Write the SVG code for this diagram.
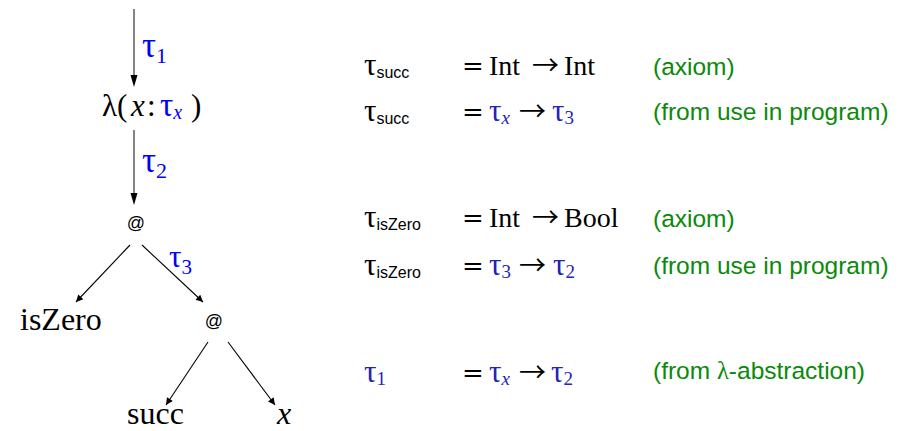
<svg xmlns="http://www.w3.org/2000/svg" width="912" height="431" viewBox="0 0 912 431">
<style>
.s{font-family:"Liberation Serif","DejaVu Serif",serif;fill:#000}
.d{font-family:"DejaVu Serif",serif;fill:#000}
.ar{font-family:"Noto Sans CJK JP","DejaVu Serif",sans-serif;fill:#000;font-size:27px}
.i{font-style:italic}
.t{font-family:"Liberation Serif","DejaVu Serif",serif;fill:#0000ff}
.tb{font-family:"Liberation Serif","DejaVu Serif",serif;fill:#2323b4}
.sans{font-family:"Liberation Sans",Arial,sans-serif}
.g{font-family:"Liberation Sans",Arial,sans-serif;fill:#0a8a0a;font-size:24.5px}
.gl{stroke:#666;stroke-width:1.6;fill:none}
.bl{stroke:#000;stroke-width:1.1;fill:none}
</style>
<defs>
<marker id="ah2" viewBox="0 0 10 10" refX="10" refY="5" markerWidth="13" markerHeight="7" markerUnits="userSpaceOnUse" orient="auto"><path d="M0,0 L10,5 L0,10 z" fill="#000"/></marker>
</defs>
<g id="connectors">
<path class="gl" d="M134,9 V76"/><polygon points="130.5,75 137.5,75 134,87" fill="#000"/>
<path class="gl" d="M134,130 V194"/><polygon points="130.5,193 137.5,193 134,205" fill="#000"/>
<line class="bl" x1="130" y1="245" x2="76" y2="302" marker-end="url(#ah2)"/>
<line class="bl" x1="142" y1="245" x2="203" y2="302" marker-end="url(#ah2)"/>
<line class="bl" x1="208" y1="342" x2="166" y2="405" marker-end="url(#ah2)"/>
<line class="bl" x1="228" y1="342" x2="275" y2="405" marker-end="url(#ah2)"/>
<text class="t" x="142" y="57" font-size="35">τ<tspan font-size="22" dy="6">1</tspan></text>
<text class="t" x="142" y="172" font-size="35">τ<tspan font-size="22" dy="6">2</tspan></text>
<text class="t" x="169" y="267" font-size="31">τ<tspan font-size="21" dy="7">3</tspan></text>
</g>
<g id="n-lambda">
<text class="s" x="102" y="116" font-size="31">λ(</text>
<text class="s i" x="131" y="116" font-size="31">x</text>
<text class="s" x="147" y="116" font-size="31">:</text>
<text class="t" x="160" y="116" font-size="33">τ<tspan class="i" font-size="20" dy="3">x</tspan></text>
<text class="s" x="191" y="116" font-size="31">)</text>
</g>
<g id="n-app1"><text class="sans" x="136" y="229" font-size="18" text-anchor="middle">@</text></g>
<g id="n-iszero"><text class="s" x="20" y="330" font-size="32">isZero</text></g>
<g id="n-app2"><text class="sans" x="214" y="327" font-size="18" text-anchor="middle">@</text></g>
<g id="n-succ"><text class="s" x="127" y="424" font-size="32">succ</text></g>
<g id="n-x"><text class="s i" x="277" y="424" font-size="32">x</text></g>
<g id="table">
<text class="s" x="364" y="75" font-size="31">τ<tspan class="sans" font-size="16" dy="3">succ</tspan></text>
<text class="d" x="462" y="75" font-size="26">=</text>
<text class="s" x="489" y="75" font-size="28">Int</text>
<text class="ar" x="532" y="75">→</text>
<text class="s" x="564" y="75" font-size="28">Int</text>
<text class="g" x="653" y="75">(axiom)</text>

<text class="s" x="364" y="121" font-size="31">τ<tspan class="sans" font-size="16" dy="3">succ</tspan></text>
<text class="d" x="462" y="121" font-size="26">=</text>
<text class="tb" x="489" y="121" font-size="31">τ<tspan class="i" font-size="19" dy="3">x</tspan></text>
<text class="ar" x="519" y="121">→</text>
<text class="tb" x="552" y="121" font-size="31">τ<tspan font-size="19" dy="3">3</tspan></text>
<text class="g" x="653" y="120">(from use in program)</text>

<text class="s" x="364" y="227" font-size="31">τ<tspan class="sans" font-size="16" dy="3">isZero</tspan></text>
<text class="d" x="462" y="227" font-size="26">=</text>
<text class="s" x="489" y="227" font-size="28">Int</text>
<text class="ar" x="532" y="227">→</text>
<text class="s" x="564" y="227" font-size="28">Bool</text>
<text class="g" x="653" y="227">(axiom)</text>

<text class="s" x="364" y="275" font-size="31">τ<tspan class="sans" font-size="16" dy="3">isZero</tspan></text>
<text class="d" x="462" y="275" font-size="26">=</text>
<text class="tb" x="489" y="275" font-size="31">τ<tspan font-size="19" dy="3">3</tspan></text>
<text class="ar" x="519" y="275">→</text>
<text class="tb" x="553" y="275" font-size="31">τ<tspan font-size="19" dy="3">2</tspan></text>
<text class="g" x="653" y="274">(from use in program)</text>

<text class="tb" x="364" y="382" font-size="31">τ<tspan font-size="19" dy="3">1</tspan></text>
<text class="d" x="462" y="382" font-size="26">=</text>
<text class="tb" x="489" y="382" font-size="31">τ<tspan class="i" font-size="19" dy="3">x</tspan></text>
<text class="ar" x="519" y="382">→</text>
<text class="tb" x="551" y="382" font-size="31">τ<tspan font-size="19" dy="3">2</tspan></text>
<text class="g" x="653" y="379">(from <tspan font-family="Liberation Serif,serif">λ</tspan>-abstraction)</text>
</g>
</svg>
